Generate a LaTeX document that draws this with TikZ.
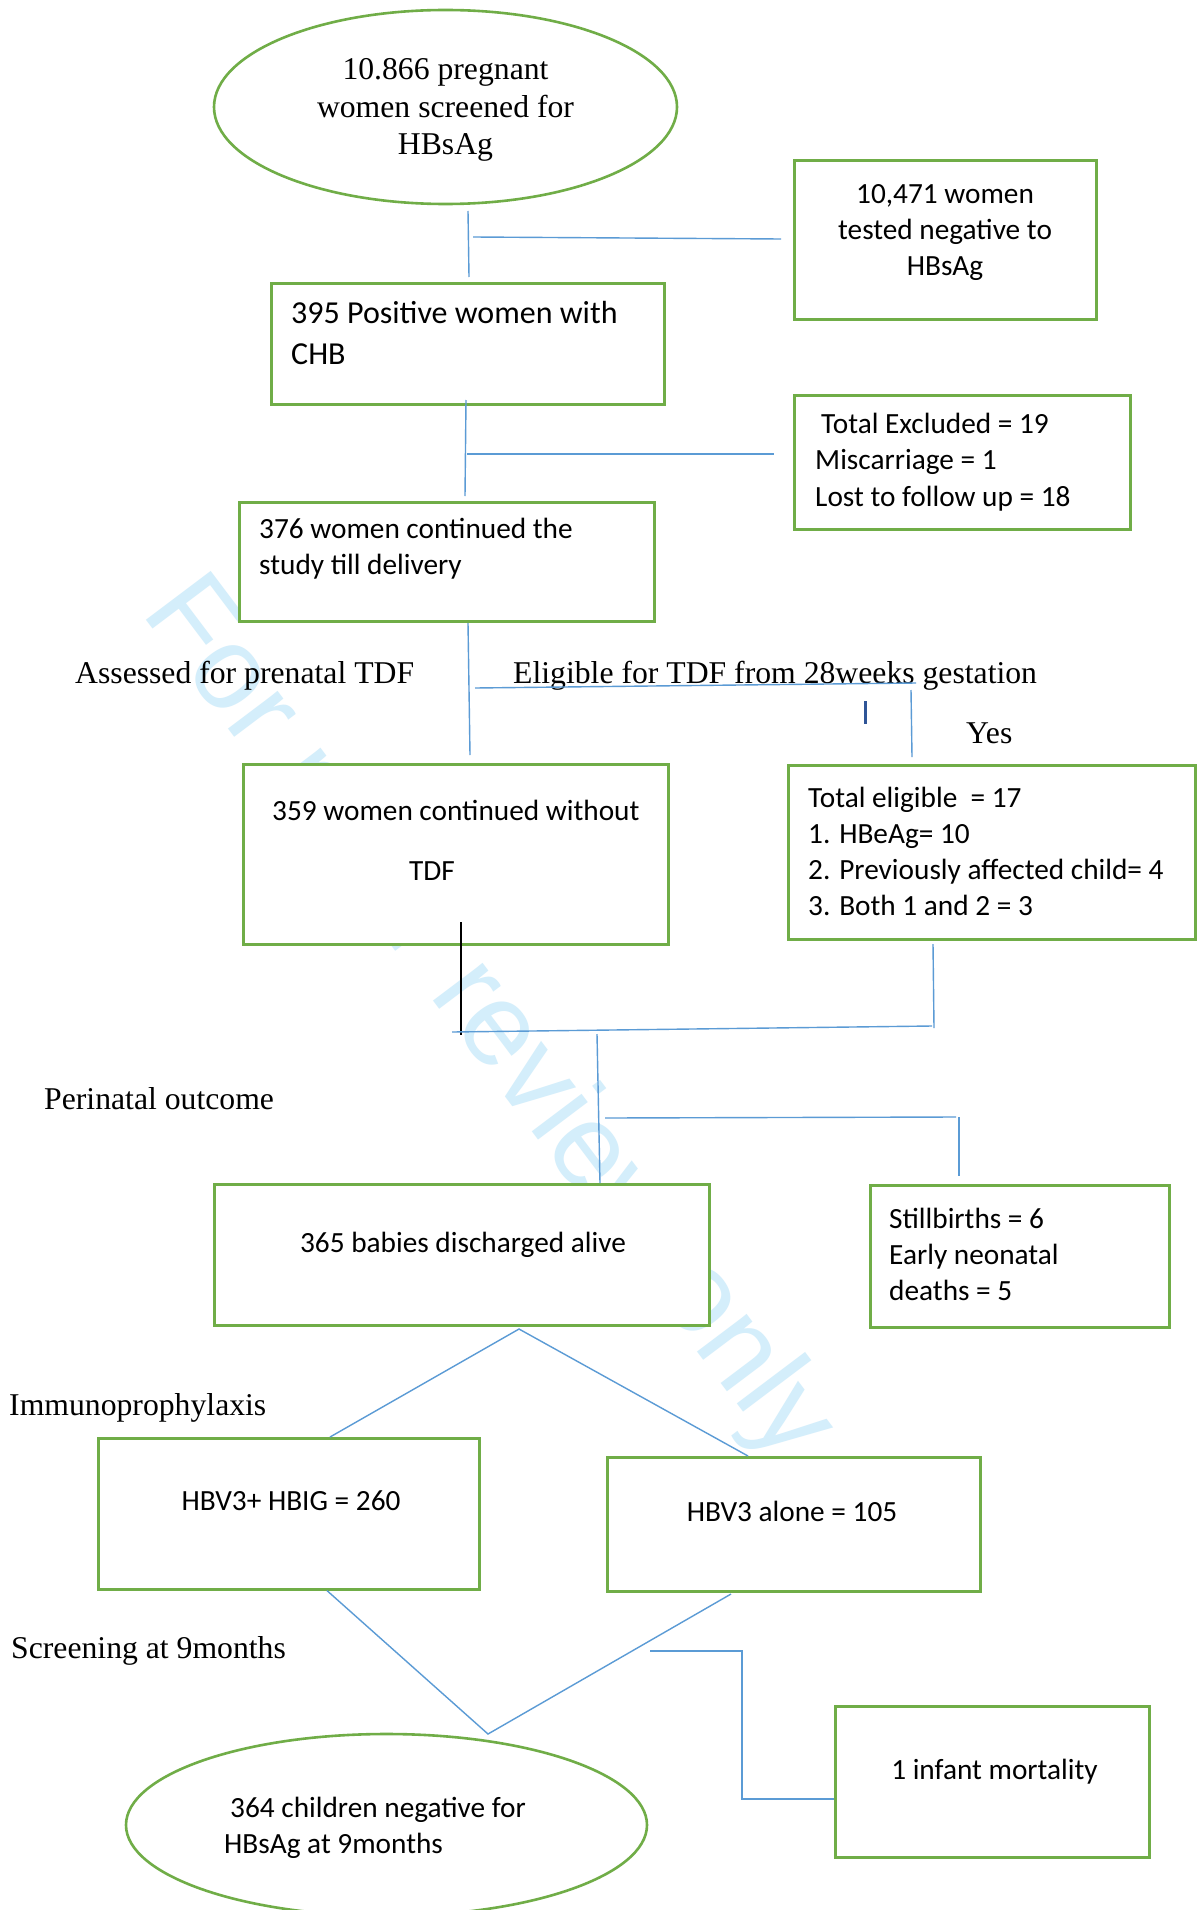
\documentclass[tikz,border=0pt]{standalone}
\usepackage{fontspec}
\setmainfont{Liberation Serif}
\newfontfamily\calibrifont{Carlito}
\newfontfamily\markfont{Liberation Sans}
\usetikzlibrary{shapes.geometric}
\definecolor{boxgreen}{RGB}{112,173,71}
\definecolor{lineblue}{RGB}{91,155,213}
\definecolor{tickblue}{RGB}{47,85,151}
\definecolor{markcyan}{RGB}{212,238,251}
\tikzset{flowbox/.style={draw=boxgreen, line width=2.6pt, fill=white, inner sep=0pt, anchor=north west},
  flowoval/.style={ellipse, draw=boxgreen, line width=2.6pt, fill=white, inner sep=0pt},
  boxtext/.style={font=\calibrifont\fontsize{29.3}{#1}\selectfont, inner sep=0pt, anchor=base west, align=left},
  boxtext/.default=36.3,
  boxtextc/.style={boxtext, anchor=base, align=center},
  stagenote/.style={font=\fontsize{31.7}{37.5}\selectfont, inner sep=0pt, anchor=base west},
  flowline/.style={lineblue, line width=1.4pt}}

\begin{document}
\begin{tikzpicture}[x=1pt, y=-1pt]
  \useasboundingbox (0,0) rectangle (1200,1910);
  \fill[white] (0,0) rectangle (1200,1910);
  \node[font=\markfont\fontsize{118}{130}\selectfont, text=markcyan, rotate=-53, anchor=base, inner sep=0pt] (mark) at (462,1039) {For peer review only};

  \node[flowoval, minimum width=463pt, minimum height=194pt] (screen) at (445.5,107) {};
  \node[flowbox, minimum width=302pt, minimum height=159pt] (neg) at (793,159) {};
  \node[flowbox, minimum width=393pt, minimum height=121pt] (pos) at (270,282) {};
  \node[flowbox, minimum width=336pt, minimum height=134pt] (excl) at (793,394) {};
  \node[flowbox, minimum width=415pt, minimum height=119pt] (cont) at (238,501) {};
  \node[flowbox, minimum width=425pt, minimum height=180pt] (notdf) at (242,763) {};
  \node[flowbox, minimum width=407pt, minimum height=174pt] (elig) at (787,764) {};
  \node[flowbox, minimum width=495pt, minimum height=141pt] (babies) at (213,1183) {};
  \node[flowbox, minimum width=299pt, minimum height=142pt] (still) at (869,1184) {};
  \node[flowbox, minimum width=381pt, minimum height=151pt] (hbig) at (97,1437) {};
  \node[flowbox, minimum width=373pt, minimum height=134pt] (alone) at (606,1456) {};
  \node[flowbox, minimum width=314pt, minimum height=151pt] (infant) at (834,1705) {};
  \node[flowoval, minimum width=521pt, minimum height=182pt] (kids) at (386.5,1825) {};

  % multi-line texts sit on their last baseline
  \node[stagenote, anchor=base, align=center] (screen-t) at (445.5,155) {10.866 pregnant\\women screened for\\HBsAg};
  \node[boxtextc=38.5] (neg-t) at (945,276) {10,471 women\\tested negative to\\HBsAg};
  \node[boxtext, font=\calibrifont\fontsize{32}{41.5}\selectfont] (pos-t) at (291,364.5) {395 Positive women with\\CHB};
  \node[boxtext=36.5] (excl-t) at (815,506) {\hspace*{6pt}Total Excluded = 19\\Miscarriage = 1\\Lost to follow up = 18};
  \node[boxtext=36] (cont-t) at (259,574) {376 women continued the\\study till delivery};
  \node[boxtext=60] (notdf-t) at (272,880) {359 women continued without\\\hspace*{137pt}TDF};
  \node[boxtext=36] (elig-t) at (808,915) {Total eligible\ \ = 17\\1. HBeAg= 10\\2. Previously affected child= 4\\3. Both 1 and 2 = 3};
  \node[boxtextc] (babies-t) at (463,1252) {365 babies discharged alive};
  \node[boxtext=36] (still-t) at (889,1300) {Stillbirths = 6\\Early neonatal\\deaths = 5};
  \node[boxtextc] (hbig-t) at (291,1510) {HBV3+ HBIG = 260};
  \node[boxtextc] (alone-t) at (792,1521) {HBV3 alone = 105};
  \node[boxtextc] (infant-t) at (994.5,1779) {1 infant mortality};
  \node[boxtext=36] (kids-t) at (224,1853) {\hspace*{6pt}364 children negative for\\HBsAg at 9months};

  \node[stagenote] (assess) at (75,683) {Assessed for prenatal TDF};
  \node[stagenote] (from28) at (513,683) {Eligible for TDF from 28weeks gestation};
  \node[stagenote] (yes) at (966,743) {Yes};
  \node[stagenote] (perinatal) at (44,1109) {Perinatal outcome};
  \node[stagenote] (immuno) at (9,1415) {Immunoprophylaxis};
  \node[stagenote] (at9) at (11,1658) {Screening at 9months};

  \coordinate (s1) at (468,211);
  \coordinate (s2) at (469,277);
  \coordinate (n1) at (473,237);
  \coordinate (n2) at (781,239);
  \coordinate (p1) at (466,400);
  \coordinate (p2) at (465,496);
  \coordinate (x1) at (467,454);
  \coordinate (x2) at (774,454);
  \coordinate (c1) at (468,623);
  \coordinate (c2) at (470,755);
  \coordinate (e1) at (475,688);
  \coordinate (e2) at (916,683);
  \coordinate (y1) at (911,690);
  \coordinate (y2) at (912,757);
  \coordinate (k1) at (865,701);
  \coordinate (k2) at (865,724);
  \coordinate (m1) at (461,922);
  \coordinate (m2) at (461,1035);
  \coordinate (m3) at (933,944);
  \coordinate (m4) at (934,1028);
  \coordinate (m5) at (452,1032);
  \coordinate (m6) at (932,1026);
  \coordinate (o1) at (597,1034);
  \coordinate (o2) at (600,0);
  \coordinate (d1) at (605,1118);
  \coordinate (d2) at (956,1117);
  \coordinate (d3) at (959,1117);
  \coordinate (d4) at (959,1176);
  \coordinate (apex) at (519,1329);
  \coordinate (h1) at (330,0);
  \coordinate (h3) at (748,0);
  \coordinate (h2) at (327,0);
  \coordinate (v1) at (488,1734);
  \coordinate (a2) at (731,1594);
  \coordinate (q1) at (650,1651);
  \coordinate (q3) at (742,1799);

  \draw[flowline] (s1) -- (s2);
  \draw[flowline] (n1) -- (n2);
  \draw[flowline] (p1) -- (p2);
  \draw[flowline] (x1) -- (x2);
  \draw[flowline] (c1) -- (c2);
  \draw[flowline] (e1) -- (e2);
  \draw[flowline] (y1) -- (y2);
  \draw[tickblue, line width=3pt] (k1) -- (k2);
  \draw[black, line width=1.2pt] (m1) -- (m2);
  \draw[flowline] (m3) -- (m4);
  \draw[flowline] (m5) -- (m6);
  \draw[flowline] (o1) -- (o2 |- babies.north);
  \draw[flowline] (d1) -- (d2);
  \draw[flowline] (d3) -- (d4);
  \draw[flowline] (h1 |- hbig.north) -- (apex) -- (h3 |- alone.north);
  \draw[flowline] (h2 |- hbig.south) -- (v1) -- (a2);
  \draw[flowline] (q1) -| (q3) -- (q3 -| infant.west);
\end{tikzpicture}
\end{document}
